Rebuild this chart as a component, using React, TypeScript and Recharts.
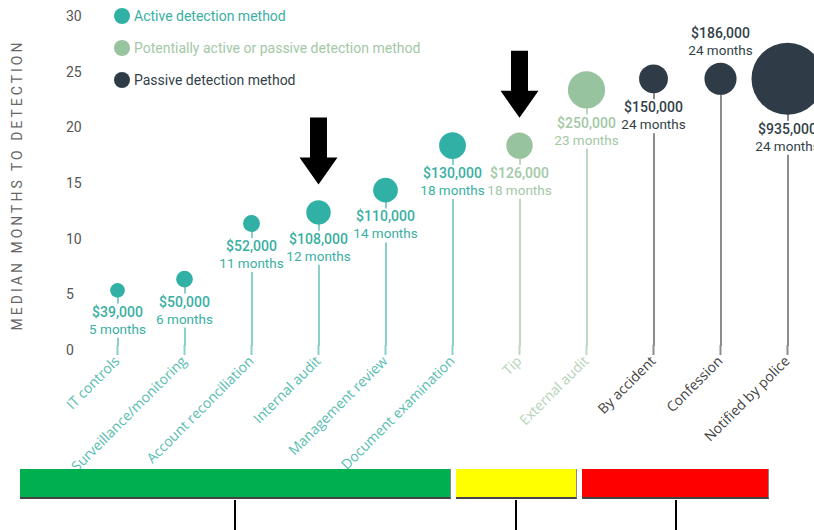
import React from "react";
import {
  ComposedChart,
  Bar,
  Scatter,
  Cell,
  XAxis,
  YAxis,
  ZAxis,
  Legend,
  ReferenceDot,
} from "recharts";

const categories = [
  "IT controls",
  "Surveillance/monitoring",
  "Account reconciliation",
  "Internal audit",
  "Management review",
  "Document examination",
  "Tip",
  "External audit",
  "By accident",
  "Confession",
  "Notified by police",
];
const medianMonths = [5, 6, 11, 12, 14, 18, 18, 23, 24, 24, 24];
const medianLoss = [39000, 50000, 52000, 108000, 110000, 130000, 126000, 250000, 150000, 186000, 935000];
const methodType = [
  "active", "active", "active", "active", "active", "active",
  "potential", "potential",
  "passive", "passive", "passive",
];
const legendItems = [
  { type: "active", label: "Active detection method" },
  { type: "potential", label: "Potentially active or passive detection method" },
  { type: "passive", label: "Passive detection method" },
];
const yTicks = [0, 5, 10, 15, 20, 25, 30];
const labelsAbove = ["Confession"];
const arrows = [
  { category: "Internal audit", at: 14.5 },
  { category: "Tip", at: 20.5 },
];

const COLORS: Record<string, { dot: string; text: string; stem: string; tick: string }> = {
  active: { dot: "#31b1a5", text: "#3aafa2", stem: "#8ccfc8", tick: "#58bdb2" },
  potential: { dot: "#98c39f", text: "#a3c8a6", stem: "#bcd8be", tick: "#b5d3b7" },
  passive: { dot: "#2f3c47", text: "#333f49", stem: "#8c8c8c", tick: "#444" },
};

const data = categories.map((name, i) => ({
  name,
  months: medianMonths[i],
  loss: medianLoss[i],
  type: methodType[i],
}));

const money = (v: number) => "$" + v.toLocaleString("en-US");

function Bubble(props: any) {
  const { cx, cy, width, payload } = props;
  if (cx == null || cy == null) return null;
  const r = width / 2;
  const c = COLORS[payload.type];
  const above = labelsAbove.includes(payload.name);
  const b1 = above ? cy - r - 25 : cy + r + 19;
  const b2 = b1 + 17;
  return (
    <g>
      {!above && <rect x={cx - 4} y={b1 - 13} width={8} height={b2 - b1 + 17} fill="#fff" />}
      <circle cx={cx} cy={cy} r={r} fill={c.dot} />
      <text x={cx} y={b1} textAnchor="middle" fill={c.text} fontSize={14} fontWeight={500} fontFamily="Roboto">
        {money(payload.loss)}
      </text>
      <text x={cx} y={b2} textAnchor="middle" fill={c.text} fontSize={13.5} fontFamily="Roboto">
        {payload.months} months
      </text>
    </g>
  );
}

function XTick(props: any) {
  const { x, y, payload } = props;
  const i = categories.indexOf(payload.value);
  const c = COLORS[methodType[i]];
  return (
    <g>
      <line x1={x} x2={x} y1={y - 1} y2={y + 9} stroke={c.stem} strokeWidth={2} />
      <text
        x={x + 3}
        y={y + 16}
        transform={`rotate(-45, ${x + 3}, ${y + 16})`}
        textAnchor="end"
        fill={c.tick}
        fontSize={14}
        fontFamily="Open Sans"
      >
        {payload.value}
      </text>
    </g>
  );
}

function YTick(props: any) {
  const { x, y, payload } = props;
  return (
    <text x={x - 18} y={y + 9} textAnchor="start" fill="#555" fontSize={14} fontFamily="Roboto">
      {payload.value}
    </text>
  );
}

function Arrow(props: any) {
  const { cx, cy } = props;
  if (cx == null || cy == null) return null;
  const pts = [
    [cx, cy],
    [cx - 19, cy - 27],
    [cx - 8.5, cy - 27],
    [cx - 8.5, cy - 67],
    [cx + 8.5, cy - 67],
    [cx + 8.5, cy - 27],
    [cx + 19, cy - 27],
  ]
    .map((p) => p.join(","))
    .join(" ");
  return <polygon points={pts} fill="#000" />;
}

function LegendContent() {
  return (
    <div style={{ fontFamily: "Roboto", fontSize: 14 }}>
      {legendItems.map((it) => (
        <div key={it.type} style={{ display: "flex", alignItems: "center", height: 32 }}>
          <svg width={16} height={16} style={{ marginRight: 4 }}>
            <circle cx={8} cy={8} r={8} fill={COLORS[it.type].dot} />
          </svg>
          <span style={{ color: COLORS[it.type].text, whiteSpace: "nowrap" }}>{it.label}</span>
        </div>
      ))}
    </div>
  );
}

function YLabel(props: any) {
  const { viewBox } = props;
  const x = viewBox.x + 17;
  const y = viewBox.y + viewBox.height / 2 + 6;
  return (
    <text
      x={x}
      y={y}
      transform={`rotate(-90, ${x}, ${y})`}
      textAnchor="middle"
      dominantBaseline="central"
      fill="#666"
      fontSize={14}
      letterSpacing={3}
      fontFamily="Roboto"
    >
      MEDIAN MONTHS TO DETECTION
    </text>
  );
}

const groupBar = (left: number, width: number, color: string) => (
  <div
    style={{
      position: "absolute",
      left,
      top: 469,
      width,
      height: 30,
      background: color,
      borderBottom: "2px solid #444",
      borderRight: "1px solid #888",
      boxSizing: "border-box",
    }}
  />
);

const stick = (left: number) => (
  <div style={{ position: "absolute", left: left - 1, top: 500, width: 2, height: 30, background: "#000" }} />
);

export default function App() {
  return (
    <div
      style={{
        position: "fixed",
        left: 0,
        top: 0,
        width: 814,
        height: 530,
        overflow: "hidden",
        background: "#fff",
      }}
    >
      <ComposedChart width={821} height={484} data={data} margin={{ top: 12, right: 0, bottom: 0, left: 0 }}>
        <XAxis
          dataKey="name"
          type="category"
          axisLine={false}
          tickLine={false}
          tickSize={0}
          tickMargin={0}
          height={138}
          interval={0}
          tick={<XTick />}
        />
        <YAxis
          type="number"
          domain={[0, 30]}
          ticks={yTicks}
          width={84}
          axisLine={false}
          tickLine={false}
          tickSize={0}
          tickMargin={0}
          tick={<YTick />}
          label={{ content: <YLabel /> }}
        />
        <ZAxis dataKey="loss" domain={[0, 935000]} range={[0, 4072]} />
        <Legend
          layout="horizontal"
          verticalAlign="middle"
          align="center"
          wrapperStyle={{ top: 0, left: 114, width: "auto" }}
          content={<LegendContent />}
        />
        <Bar dataKey="months" barSize={2} isAnimationActive={false}>
          {data.map((d) => (
            <Cell key={d.name} fill={COLORS[d.type].stem} />
          ))}
        </Bar>
        <Scatter dataKey="months" shape={<Bubble />} isAnimationActive={false} />
        {arrows.map((a) => (
          <ReferenceDot key={a.category} x={a.category} y={a.at} r={0} shape={<Arrow />} />
        ))}
      </ComposedChart>
      {groupBar(20, 431, "#00b050")}
      {groupBar(456, 121, "#ffff00")}
      {groupBar(582, 187, "#ff0000")}
      {stick(235)}
      {stick(516)}
      {stick(676)}
    </div>
  );
}
